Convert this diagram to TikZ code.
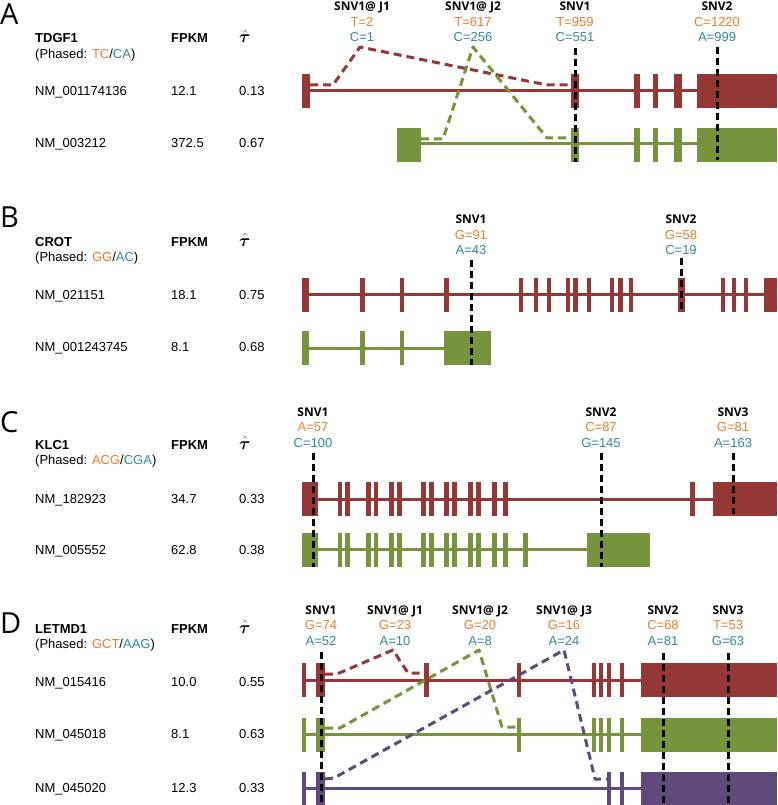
\documentclass[tikz,border=0pt]{standalone}
\usepackage{amsmath,bm}
\usepackage{fontspec}
\setmainfont{Liberation Sans}
\newfontfamily\snvf{Open Sans}
\newfontfamily\letf{Open Sans}
\definecolor{cR}{HTML}{953735}
\definecolor{cG}{HTML}{77933C}
\definecolor{cP}{HTML}{604A7B}
\definecolor{orT}{HTML}{EE7D2A}
\definecolor{blT}{HTML}{3289A2}
\tikzset{
  lab/.style={anchor=base west, inner sep=0pt, font=\fontsize{13}{15}\selectfont},
  blab/.style={lab, font=\fontsize{13}{15}\selectfont\bfseries},
  snv/.style={anchor=base, inner sep=0pt, font=\snvf\bfseries\fontsize{12}{14}\selectfont},
  cnta/.style={anchor=base, inner sep=0pt, text=orT, font=\fontsize{13}{15}\selectfont},
  cntb/.style={anchor=base, inner sep=0pt, text=blT, font=\fontsize{13}{15}\selectfont},
  panel/.style={anchor=base west, inner sep=0pt, font=\letf\fontsize{29}{31}\selectfont},
  intron/.style={line width=3pt},
  jdash/.style={line width=3pt, dash pattern=on 8pt off 5pt, line join=round},
  snvline/.style={black, line width=3pt, dash pattern=on 7pt off 4pt},
}
% exons: colour, row centre, list of left/right
\newcommand\exons[3]{\foreach \a/\b in {#3} \fill[#1] (\a,#2-17) rectangle (\b,#2+17);}
% snv label: name, x, baseline, title, count a, count b
\newcommand\snvlabel[6]{%
  \node[snv] (#1t) at (#2,#3) {#4};
  \node[cnta] (#1a) at (#2,#3+15.5) {#5};
  \node[cntb] (#1b) at (#2,#3+31) {#6};}
% header: prefix, letter, letter baseline, gene, phased a, phased b, base
\newcommand\header[7]{%
  \node[panel] (#1L) at (0,#3) {#2};
  \node[blab] (#1g) at (35,#7) {#4};
  \node[lab] (#1p) at (35,#7+15.5) {(Phased: \textcolor{orT}{#5}/\textcolor{blT}{#6})};
  \node[blab] (#1f) at (171,#7) {FPKM};
  \node[anchor=base west, inner sep=0pt, font=\fontsize{16}{18}\selectfont] (#1t) at (239,#7) {$\bm{\hat{\tau}}$};}
% transcript row: name, baseline, id, fpkm, tau
\newcommand\trow[5]{%
  \node[lab] (#1i) at (35,#2) {#3};
  \node[lab] (#1f) at (171,#2) {#4};
  \node[lab] (#1t) at (239,#2) {#5};}
\begin{document}
\begin{tikzpicture}[x=1pt,y=-1pt]
\useasboundingbox (0,0) rectangle (777,805);
\fill[white] (0,0) rectangle (777,805);

%%%%%%%%%%%%%%%% Panel A
\header{A}{A}{25}{TDGF1}{TC}{CA}{43}
\trow{A1}{96}{NM\_001174136}{12.1}{0.13}
\trow{A2}{148}{NM\_003212}{372.5}{0.67}
\snvlabel{Aj1}{362}{11}{SNV1@ J1}{T=2}{C=1}
\snvlabel{Aj2}{473}{11}{SNV1@ J2}{T=617}{C=256}
\snvlabel{As1}{575}{11}{SNV1}{T=959}{C=551}
\snvlabel{As2}{717}{11}{SNV2}{C=1220}{A=999}
\draw[intron,cR] (302,91) -- (777,91);
\exons{cR}{91}{302/310, 571/579, 634/640, 653/658, 674/682, 697/777}
\draw[intron,cG] (421,144) -- (777,144);
\exons{cG}{145}{397/421, 571/579, 634/640, 653/658, 674/682, 697/777}
\coordinate (Ar0) at (310,85); \coordinate (Ar1) at (333,85); \coordinate (Ar2) at (360,47);
\coordinate (Ar3) at (547,85); \coordinate (Ar4) at (571,85);
\draw[jdash,cR] (Ar0) -- (Ar1) -- (Ar2) -- (Ar3) -- (Ar4);
\coordinate (Ag0) at (421,139); \coordinate (Ag1) at (443,139); \coordinate (Ag2) at (473,47);
\coordinate (Ag3) at (547,138); \coordinate (Ag4) at (571,138);
\draw[jdash,cG] (Ag0) -- (Ag1) -- (Ag2) -- (Ag3) -- (Ag4);
\coordinate (As1u) at (575,48); \coordinate (As1d) at (575,162);
\coordinate (As2u) at (717,47); \coordinate (As2d) at (717,160);
\draw[snvline] (As1u) -- (As1d);
\draw[snvline] (As2u) -- (As2d);

%%%%%%%%%%%%%%%% Panel B
\header{B}{B}{227}{CROT}{GG}{AC}{246}
\trow{B1}{299}{NM\_021151}{18.1}{0.75}
\trow{B2}{351.5}{NM\_001243745}{8.1}{0.68}
\snvlabel{Bs1}{471}{223.5}{SNV1}{G=91}{A=43}
\snvlabel{Bs2}{681}{223.5}{SNV2}{G=58}{C=19}
\draw[intron,cR] (302,294.5) -- (777,294.5);
\exons{cR}{295}{302/309, 360/365, 400/404, 444/449, 519/523, 534/538, 547/551, 566/570, 573/578, 587/591, 610/614, 618/623, 629/633, 678/685, 721/725, 732/736, 744/748, 764/777}
\draw[intron,cG] (302,348) -- (444,348);
\exons{cG}{348}{302/309, 360/365, 400/404, 444/491}
\coordinate (Bs1u) at (471,260); \coordinate (Bs1d) at (471,365);
\coordinate (Bs2u) at (681,258); \coordinate (Bs2d) at (681,312);
\draw[snvline] (Bs1u) -- (Bs1d);
\draw[snvline] (Bs2u) -- (Bs2d);

%%%%%%%%%%%%%%%% Panel C
\header{C}{C}{432}{KLC1}{ACG}{CGA}{449}
\trow{C1}{503}{NM\_182923}{34.7}{0.33}
\trow{C2}{554}{NM\_005552}{62.8}{0.38}
\snvlabel{Cs1}{313}{416}{SNV1}{A=57}{C=100}
\snvlabel{Cs2}{601}{416}{SNV2}{C=87}{G=145}
\snvlabel{Cs3}{733}{416}{SNV3}{G=81}{A=163}
\draw[intron,cR] (302,499) -- (777,499);
\exons{cR}{499}{302/318, 338/342, 345/350, 366/371, 374/378, 389/394, 397/402, 421/426, 429/434, 444/449, 452/457, 468/473, 476/481, 492/497, 503/508, 690/695, 713/777}
\draw[intron,cG] (302,549.5) -- (587,549.5);
\exons{cG}{550}{302/318, 338/342, 345/350, 366/371, 374/378, 389/394, 397/402, 421/426, 429/434, 444/449, 452/457, 468/473, 476/481, 492/497, 503/508, 523/528, 587/650}
\coordinate (Cs1u) at (313,453); \coordinate (Cs1d) at (313,567);
\coordinate (Cs2u) at (601,453); \coordinate (Cs2d) at (601,567);
\coordinate (Cs3u) at (733,453); \coordinate (Cs3d) at (733,514);
\draw[snvline] (Cs1u) -- (Cs1d);
\draw[snvline] (Cs2u) -- (Cs2d);
\draw[snvline] (Cs3u) -- (Cs3d);

%%%%%%%%%%%%%%%% Panel D
\header{D}{D}{633}{LETMD1}{GCT}{AAG}{633}
\trow{D1}{686}{NM\_015416}{10.0}{0.55}
\trow{D2}{738}{NM\_045018}{8.1}{0.63}
\trow{D3}{792}{NM\_045020}{12.3}{0.33}
\snvlabel{Ds1}{321}{614}{SNV1}{G=74}{A=52}
\snvlabel{Dj1}{395}{614}{SNV1@ J1}{G=23}{A=10}
\snvlabel{Dj2}{480}{614}{SNV1@ J2}{G=20}{A=8}
\snvlabel{Dj3}{564}{614}{SNV1@ J3}{G=16}{A=24}
\snvlabel{Ds2}{663}{614}{SNV2}{C=68}{A=81}
\snvlabel{Ds3}{728}{614}{SNV3}{T=53}{G=63}
\draw[intron,cR] (302,680) -- (777,680);
\exons{cR}{680}{302/306, 316/325, 424/429, 517/521, 592/596, 599/603, 607/611, 620/624, 641/777}
\draw[intron,cG] (302,734) -- (641,734);
\exons{cG}{735}{302/306, 316/325, 517/521, 592/596, 599/603, 607/611, 620/624, 641/777}
\draw[intron,cP] (302,788) -- (641,788);
\exons{cP}{789}{302/306, 316/325, 607/611, 620/624, 641/777}
\coordinate (Dr0) at (325,674); \coordinate (Dr1) at (337,674); \coordinate (Dr2) at (393,650);
\coordinate (Dr3) at (408,673); \coordinate (Dr4) at (424,673);
\draw[jdash,cR] (Dr0) -- (Dr1) -- (Dr2) -- (Dr3) -- (Dr4);
\coordinate (Dg0) at (325,728); \coordinate (Dg1) at (340,728); \coordinate (Dg2) at (479,650);
\coordinate (Dg3) at (502,727); \coordinate (Dg4) at (517,727);
\draw[jdash,cG] (Dg0) -- (Dg1) -- (Dg2) -- (Dg3) -- (Dg4);
\coordinate (Dp0) at (325,779); \coordinate (Dp1) at (334,778); \coordinate (Dp2) at (564,650);
\coordinate (Dp3) at (595,779); \coordinate (Dp4) at (607,779);
\draw[jdash,cP] (Dp0) -- (Dp1) -- (Dp2) -- (Dp3) -- (Dp4);
\coordinate (Ds1u) at (321,652); \coordinate (Ds1d) at (321,805);
\coordinate (Ds2u) at (663,653); \coordinate (Ds2d) at (663,805);
\coordinate (Ds3u) at (728,653); \coordinate (Ds3d) at (728,805);
\draw[snvline] (Ds1u) -- (Ds1d);
\draw[snvline] (Ds2u) -- (Ds2d);
\draw[snvline] (Ds3u) -- (Ds3d);
\end{tikzpicture}
\end{document}
